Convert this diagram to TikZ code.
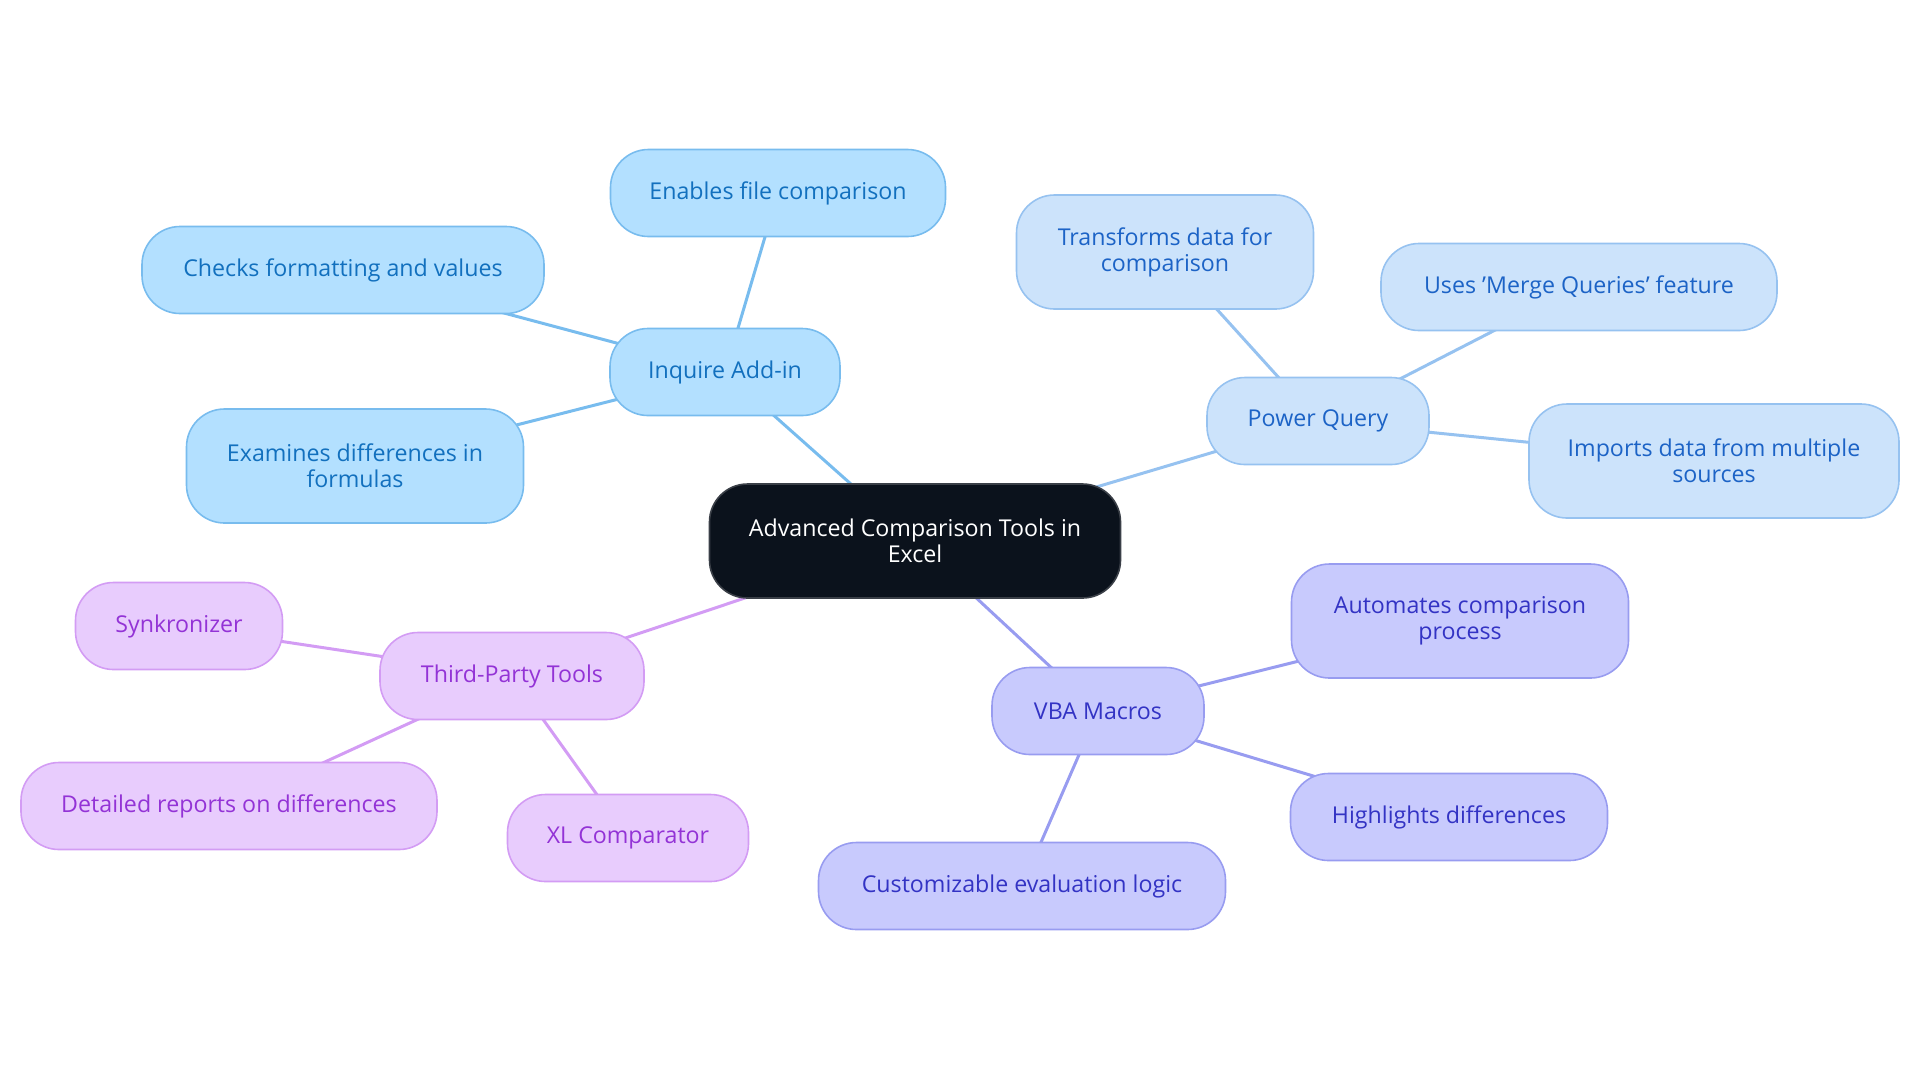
\documentclass[tikz,border=0pt]{standalone}
\usepackage{fontspec}
\setmainfont{Open Sans}
\usetikzlibrary{positioning,backgrounds}
\definecolor{rootfill}{HTML}{0B121C}
\definecolor{rootline}{HTML}{3A3F47}
\definecolor{inqfill}{HTML}{B3E0FF}
\definecolor{inqline}{HTML}{78BCEE}
\definecolor{inqtext}{HTML}{1270BE}
\definecolor{pqfill}{HTML}{CCE3FB}
\definecolor{pqline}{HTML}{96C2F0}
\definecolor{pqtext}{HTML}{1C63C6}
\definecolor{vbafill}{HTML}{C8CAFD}
\definecolor{vbaline}{HTML}{989CF0}
\definecolor{vbatext}{HTML}{3333C4}
\definecolor{tpfill}{HTML}{E8CCFD}
\definecolor{tpline}{HTML}{D39CF4}
\definecolor{tptext}{HTML}{9333D6}
\tikzset{
  pill/.style={rounded corners=19pt, line width=0.8pt, align=center,
    minimum height=43.5pt, inner sep=4pt, font=\fontsize{11.6}{13}\selectfont},
  twoline/.style={minimum height=57pt},
  root/.style={pill, draw=rootline, fill=rootfill, text=white},
  inq/.style={pill, draw=inqline, fill=inqfill, text=inqtext},
  pq/.style={pill, draw=pqline, fill=pqfill, text=pqtext},
  vba/.style={pill, draw=vbaline, fill=vbafill, text=vbatext},
  tp/.style={pill, draw=tpline, fill=tpfill, text=tptext},
  inqlink/.style={draw=inqline, line width=1.5pt},
  pqlink/.style={draw=pqline, line width=1.5pt},
  vbalink/.style={draw=vbaline, line width=1.5pt},
  tplink/.style={draw=tpline, line width=1.5pt}
}
\begin{document}
\begin{tikzpicture}[x=0.5pt, y=-0.5pt]
  \useasboundingbox (0,0) rectangle (1920,1083);
  % centre
  \node[root, twoline, minimum width=205.5pt] (tools) at (915,541) {Advanced Comparison Tools in\\Excel};
  % inquire add-in
  \node[inq, minimum width=115pt] (inquire) at (725,372) {Inquire Add-in};
  \node[inq, minimum width=167.5pt] (enables) at (778,193) {Enables file comparison};
  \node[inq, minimum width=201pt] (checks) at (343,270) {Checks formatting and values};
  \node[inq, twoline, minimum width=168.5pt] (examines) at (355,466) {Examines differences in\\formulas};
  % power query
  \node[pq, minimum width=111pt] (power) at (1318,421) {Power Query};
  \node[pq, twoline, minimum width=148.5pt] (transforms) at (1165,252) {Transforms data for\\comparison};
  \node[pq, minimum width=198pt] (merge) at (1579,287) {Uses 'Merge Queries' feature};
  \node[pq, twoline, minimum width=185pt] (imports) at (1714,461) {Imports data from multiple\\sources};
  % vba macros
  \node[vba, minimum width=106pt] (vba) at (1098,711) {VBA Macros};
  \node[vba, twoline, minimum width=168.5pt] (automates) at (1460,621) {Automates comparison\\process};
  \node[vba, minimum width=158.5pt] (highlights) at (1449,817) {Highlights differences};
  \node[vba, minimum width=203.5pt] (custom) at (1022,886) {Customizable evaluation logic};
  % third-party tools
  \node[tp, minimum width=132pt] (third) at (512,676) {Third-Party Tools};
  \node[tp, minimum width=103.5pt] (synk) at (179,626) {Synkronizer};
  \node[tp, minimum width=208pt] (reports) at (229,806) {Detailed reports on differences};
  \node[tp, minimum width=120.5pt] (xlcomp) at (628,838) {XL Comparator};
  % links, behind the boxes
  \begin{scope}[on background layer]
    \draw[inqlink] (tools.center) -- (inquire.center);
    \draw[inqlink] (inquire.center) -- (enables.center);
    \draw[inqlink] (inquire.center) -- (checks.center);
    \draw[inqlink] (inquire.center) -- (examines.center);
    \draw[pqlink] (tools.center) -- (power.center);
    \draw[pqlink] (power.center) -- (transforms.center);
    \draw[pqlink] (power.center) -- (merge.center);
    \draw[pqlink] (power.center) -- (imports.center);
    \draw[vbalink] (tools.center) -- (vba.center);
    \draw[vbalink] (vba.center) -- (automates.center);
    \draw[vbalink] (vba.center) -- (highlights.center);
    \draw[vbalink] (vba.center) -- (custom.center);
    \draw[tplink] (tools.center) -- (third.center);
    \draw[tplink] (third.center) -- (synk.center);
    \draw[tplink] (third.center) -- (reports.center);
    \draw[tplink] (third.center) -- (xlcomp.center);
  \end{scope}
\end{tikzpicture}
\end{document}
